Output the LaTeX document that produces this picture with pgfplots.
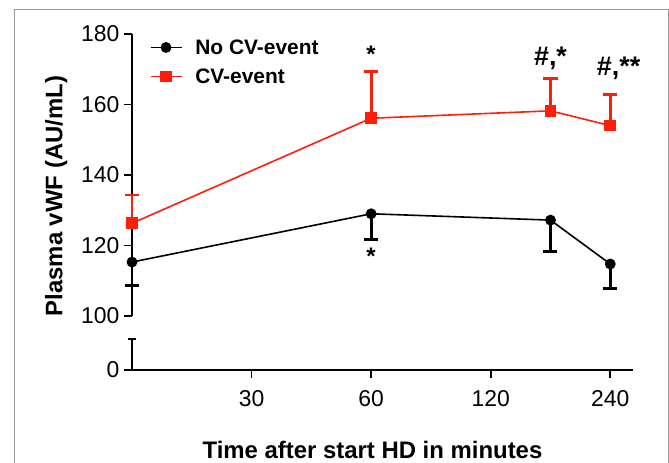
\documentclass[border=0pt]{standalone}
\usepackage{pgfplots}
\pgfplotsset{compat=1.18}
\usepackage{fontspec}
\setmainfont{Liberation Sans}

\definecolor{cvred}{RGB}{255,30,10}

% points: black = No CV-event (lower error only), red = CV-event (upper error only)
\pgfplotstableread{
x    y      e
0    115.3  6.7
2    129.0  7.2
3.5  127.2  9.0
4    114.75 7.0
}\nocv
\pgfplotstableread{
x    y      e
0    126.3  8.0
2    156.1  13.2
3.5  158.2  9.1
4    154.0  8.9
}\cv

\pgfplotsset{
  brk/.style={
    scale only axis, width=501bp,
    xmin=0, xmax=4.19,
    axis y line*=left,
    axis line style={line width=1.6bp, -},
    tick align=outside, major tick length=8bp,
    tick style={line width=1.6bp, black},
    ticklabel style={font=\fontsize{23}{26}\selectfont},
    /pgf/number format/assume math mode=true,
    clip=false,
  },
}

\begin{document}
\begin{tikzpicture}
\draw[gray!80, line width=1bp] (14bp,-20bp) rectangle (668bp,453bp);

% upper part 100-180
\begin{axis}[brk,
  at={(132bp,147bp)}, anchor=origin, height=282bp,
  axis x line=none,
  ymin=100, ymax=180, ytick={100,120,...,180},
  yticklabel style={xshift=-1bp},
  ylabel={\bfseries Plasma vWF (AU/mL)},
  ylabel style={font=\fontsize{24}{26}\selectfont, at={(ticklabel cs:0.425)}},
  ylabel shift=7bp,
  legend style={draw=none, fill=none, at={(rel axis cs:0.035,0.985)}, anchor=north west,
    font=\fontsize{21}{24}\selectfont\bfseries, row sep=11bp, inner sep=0pt,
    nodes={inner sep=1bp},
    /tikz/column 1/.style={column sep=12bp}},
  legend cell align=left,
  legend image code/.code={\draw[mark repeat=2,mark phase=2,#1]
    plot coordinates {(0bp,0bp) (15.5bp,0bp) (31bp,0bp)};},
]
\addplot[black, line width=1.6bp, mark=*, mark size=4.6bp,
  error bars/.cd, y dir=minus, y explicit,
  error bar style={line width=2.8bp},
  error mark options={rotate=90, mark size=7bp, line width=2.8bp}]
  table[x=x, y=y, y error=e] {\nocv};
\addplot[cvred, line width=1.6bp, mark=square*, mark size=5bp,
  error bars/.cd, y dir=plus, y explicit,
  error bar style={line width=2.8bp},
  error mark options={rotate=90, mark size=7bp, line width=2.8bp}]
  table[x=x, y=y, y error=e] {\cv};
\legend{No CV-event, CV-event}

\node[font=\fontsize{24}{26}\selectfont\bfseries] at (axis cs:2,174.3) {*};
\node[font=\fontsize{27}{29}\selectfont\bfseries] at (axis cs:3.5,173.2) {\#,*};
\node[font=\fontsize{27}{29}\selectfont\bfseries] at (axis cs:4.07,170.3) {\#,**};
\node[font=\fontsize{24}{26}\selectfont\bfseries] at (axis cs:2,117) {*};
\end{axis}

% lower part with x axis
\begin{axis}[brk,
  at={(132bp,93bp)}, anchor=origin, height=31bp,
  axis x line*=bottom,
  ymin=0, ymax=1, ytick={0}, yticklabels={0},
  extra y ticks={1}, extra y tick labels={},
  extra y tick style={tick align=center},
  yticklabel style={xshift=-1bp},
  xtick={1,2,3,4}, xticklabels={30,60,120,240},
  xticklabel style={yshift=-9bp},
  xlabel={\bfseries Time after start HD in minutes},
  xlabel style={font=\fontsize{24}{26}\selectfont, yshift=-28bp, xshift=-10bp},
]
\end{axis}

\pgfresetboundingbox
\path[use as bounding box] (0bp,0bp) rectangle (669bp,463bp);
\end{tikzpicture}
\end{document}
